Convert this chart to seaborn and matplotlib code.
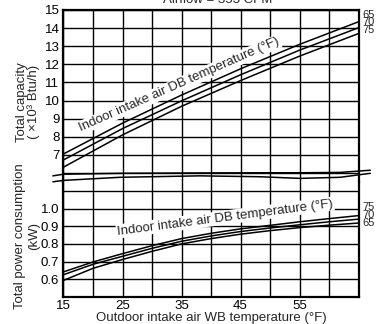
import matplotlib
matplotlib.use("Agg")
import matplotlib.pyplot as plt
import seaborn as sns
import pandas as pd

# ---------------- data ----------------
db_temps = [65, 70, 75]

wb_cap = [15, 25, 35, 45, 55, 65]
cap_65 = [7.05, 8.75, 10.30, 11.75, 13.10, 14.35]
cap_70 = [6.72, 8.45, 9.98, 11.42, 12.78, 14.02]
cap_75 = [6.32, 8.10, 9.68, 11.10, 12.45, 13.70]

wb_pow = [15, 20, 25, 30, 35, 40, 45, 50, 55, 60, 65]
pow_75 = [0.642, 0.698, 0.745, 0.790, 0.830, 0.860, 0.885, 0.905, 0.925, 0.943, 0.960]
pow_70 = [0.626, 0.685, 0.730, 0.775, 0.815, 0.845, 0.870, 0.890, 0.908, 0.925, 0.940]
pow_65 = [0.594, 0.662, 0.712, 0.758, 0.800, 0.830, 0.855, 0.875, 0.892, 0.906, 0.918]

x_ticks = [15, 20, 25, 30, 35, 40, 45, 50, 55, 60, 65]
x_labels = ["15", "", "25", "", "35", "", "45", "", "55", "", ""]
cap_ticks = [6, 7, 8, 9, 10, 11, 12, 13, 14, 15]
cap_labels = ["", "7", "8", "9", "10", "11", "12", "13", "14", "15"]
pow_ticks = [0.5, 0.6, 0.7, 0.8, 0.9, 1.0, 1.1]
pow_labels = ["", "0.6", "0.7", "0.8", "0.9", "1.0", ""]

title = "Airflow = 353 CFM"
xlabel = "Outdoor intake air WB temperature (°F)"
cap_ylabel = "Total capacity\n( ×10³ Btu/h)"
pow_ylabel = "Total power consumption\n(kW)"
curve_note = "Indoor intake air DB temperature (°F)"

# break-mark decoration (x in °F, y in capacity-axis units)
brk_x = [13.2, 15.0, 24.6, 38.1, 48.3, 55.1, 61.9, 67.0]
brk_a = [5.84, 5.93, 5.98, 6.00, 6.01, 6.01, 6.03, 6.15]
brk_b = [5.51, 5.59, 5.76, 5.84, 5.79, 5.70, 5.76, 5.98]

# ---------------- frames ----------------
cap_df = pd.DataFrame({
    "wb": wb_cap * 3,
    "val": cap_65 + cap_70 + cap_75,
    "db": [65] * len(wb_cap) + [70] * len(wb_cap) + [75] * len(wb_cap),
})
pow_df = pd.DataFrame({
    "wb": wb_pow * 3,
    "val": pow_65 + pow_70 + pow_75,
    "db": [65] * len(wb_pow) + [70] * len(wb_pow) + [75] * len(wb_pow),
})

sns.set_style("white")
plt.rcParams["font.family"] = ["Liberation Sans", "DejaVu Sans"]
FS = 9.5

fig = plt.figure(figsize=(3.76, 3.24), dpi=100)
L, W = 63.5 / 376, 295 / 376
ax_top = fig.add_axes([L, 1 - 182 / 324, W, (182 - 10) / 324])
ax_bot = fig.add_axes([L, 1 - 297 / 324, W, (297 - 182) / 324])

pal = {d: "black" for d in db_temps}
sns.lineplot(data=cap_df, x="wb", y="val", hue="db", palette=pal,
             legend=False, ax=ax_top, linewidth=1.1, zorder=3)
sns.lineplot(data=pow_df, x="wb", y="val", hue="db", palette=pal,
             legend=False, ax=ax_bot, linewidth=1.1, zorder=3)

for ax, yt, yl, lim in [(ax_top, cap_ticks, cap_labels, (5.5, 15)),
                        (ax_bot, pow_ticks, pow_labels, (0.5, 1.15))]:
    ax.set_xlim(15, 65)
    ax.set_ylim(*lim)
    ax.set_xticks(x_ticks)
    ax.set_yticks(yt)
    ax.set_yticklabels(yl)
    ax.grid(True, color="black", linewidth=1.0)
    ax.set_axisbelow(True)
    ax.tick_params(length=0, labelsize=FS, pad=3, colors="black")
    ax.set_xlabel("")
    ax.set_ylabel("")
    for s in ax.spines.values():
        s.set_color("black")
        s.set_linewidth(1.6)

ax_top.set_xticklabels([])
ax_top.spines["bottom"].set_visible(False)
ax_bot.spines["top"].set_visible(False)
ax_bot.set_xticklabels(x_labels)
ax_bot.tick_params(axis="x", pad=2)
ax_bot.set_xlabel(xlabel, fontsize=FS, labelpad=0)

# break marks
ax_top.plot(brk_x, brk_a, color="black", lw=1.1, clip_on=False, zorder=4)
ax_top.plot(brk_x, brk_b, color="black", lw=1.1, clip_on=False, zorder=4)

# curve notes
ax_top.text(34.6, 10.87, curve_note, rotation=23.8, rotation_mode="anchor",
            ha="center", va="center", fontsize=FS, zorder=5,
            bbox=dict(fc="white", ec="none", pad=0.8))
ax_bot.text(42.4, 0.949, curve_note, rotation=7.4, rotation_mode="anchor",
            ha="center", va="center", fontsize=FS, zorder=5,
            bbox=dict(fc="white", ec="none", pad=0.8))

# right-side DB labels
for lab, y in zip(["65", "70", "75"], [14.73, 14.31, 13.89]):
    ax_top.text(65.6, y, lab, ha="left", va="center", fontsize=8, clip_on=False)
for lab, y in zip(["75", "70", "65"], [1.011, 0.966, 0.921]):
    ax_bot.text(65.6, y, lab, ha="left", va="center", fontsize=8, clip_on=False)

# y labels
fig.text(28 / 376, 1 - 102 / 324, cap_ylabel, rotation=90, ha="center",
         va="center", multialignment="center", fontsize=FS, linespacing=1.0)
fig.text(27 / 376, 1 - 236 / 324, pow_ylabel, rotation=90, ha="center",
         va="center", multialignment="center", fontsize=FS, linespacing=1.2)

fig.text(218 / 376, 1 - 3 / 324, title, ha="center", va="baseline", fontsize=FS)

fig.savefig("out.png", dpi=100)
